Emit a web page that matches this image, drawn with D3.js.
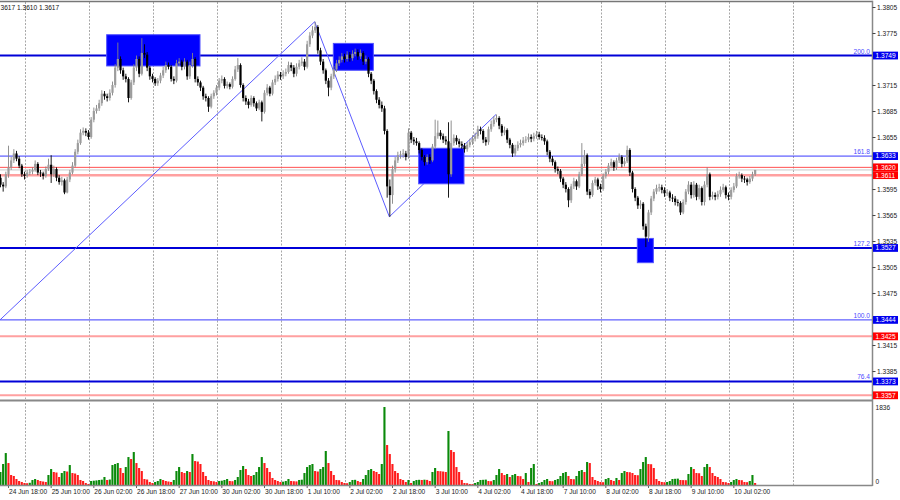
<!DOCTYPE html>
<html><head><meta charset="utf-8">
<script src="https://cdn.jsdelivr.net/npm/d3@7"></script>
<style>html,body{margin:0;padding:0;background:#fff;}svg{display:block;font-family:"Liberation Sans",Arial,sans-serif;}</style>
</head><body><svg id="c" width="900" height="500"></svg>
<script>
// ---------------- DATA ----------------
const symbol = "GBPUSD,H1";
const open = [1.3608,1.3600,1.3598,1.3612,1.3620,1.3628,1.3636,1.3630,1.3622,1.3612,
1.3610,1.3614,1.3615,1.3617,1.3624,1.3614,1.3613,1.3610,1.3618,1.3623,
1.3612,1.3618,1.3608,1.3603,1.3605,1.3591,1.3606,1.3614,1.3622,1.3638,
1.3648,1.3660,1.3662,1.3660,1.3655,1.3675,1.3685,1.3688,1.3694,1.3705,
1.3702,1.3700,1.3706,1.3715,1.3735,1.3745,1.3732,1.3725,1.3722,1.3700,
1.3718,1.3735,1.3745,1.3728,1.3752,1.3750,1.3735,1.3725,1.3722,1.3717,
1.3720,1.3726,1.3732,1.3738,1.3736,1.3722,1.3720,1.3740,1.3742,1.3736,
1.3742,1.3725,1.3738,1.3745,1.3722,1.3718,1.3712,1.3702,1.3700,1.3690,
1.3702,1.3706,1.3712,1.3720,1.3722,1.3714,1.3716,1.3713,1.3722,1.3733,
1.3738,1.3715,1.3700,1.3696,1.3692,1.3700,1.3694,1.3688,1.3695,1.3684,
1.3706,1.3712,1.3705,1.3718,1.3722,1.3727,1.3725,1.3728,1.3730,1.3738,
1.3735,1.3728,1.3736,1.3740,1.3742,1.3736,1.3762,1.3772,1.3778,1.3782,
1.3755,1.3742,1.3732,1.3720,1.3712,1.3725,1.3733,1.3740,1.3744,1.3748,
1.3745,1.3750,1.3746,1.3751,1.3753,1.3748,1.3752,1.3742,1.3745,1.3728,
1.3720,1.3708,1.3698,1.3692,1.3688,1.3662,1.3598,1.3588,1.3618,1.3628,
1.3634,1.3635,1.3636,1.3632,1.3660,1.3652,1.3650,1.3648,1.3640,1.3632,
1.3626,1.3632,1.3628,1.3644,1.3656,1.3660,1.3656,1.3652,1.3650,1.3612,
1.3648,1.3654,1.3650,1.3647,1.3645,1.3641,1.3646,1.3649,1.3653,1.3656,
1.3664,1.3662,1.3652,1.3649,1.3664,1.3670,1.3675,1.3677,1.3668,1.3660,
1.3663,1.3652,1.3646,1.3636,1.3642,1.3646,1.3648,1.3651,1.3652,1.3655,
1.3653,1.3656,1.3658,1.3655,1.3654,1.3650,1.3638,1.3630,1.3626,1.3618,
1.3616,1.3607,1.3600,1.3595,1.3582,1.3598,1.3604,1.3598,1.3612,1.3624,
1.3634,1.3592,1.3588,1.3602,1.3606,1.3598,1.3595,1.3610,1.3615,1.3622,
1.3626,1.3620,1.3628,1.3632,1.3624,1.3627,1.3640,1.3614,1.3595,1.3585,
1.3576,1.3578,1.3552,1.3540,1.3568,1.3584,1.3592,1.3596,1.3597,1.3594,
1.3590,1.3591,1.3585,1.3584,1.3580,1.3579,1.3568,1.3580,1.3592,1.3600,
1.3588,1.3600,1.3586,1.3596,1.3580,1.3600,1.3612,1.3586,1.3588,1.3586,
1.3589,1.3594,1.3597,1.3588,1.3586,1.3594,1.3598,1.3610,1.3611,1.3607,
1.3606,1.3603,1.3607,1.3612];
const high = [1.3612,1.3603,1.3615,1.3645,1.3632,1.3641,1.3639,1.3633,1.3624,1.3615,
1.3617,1.3618,1.3620,1.3628,1.3626,1.3617,1.3615,1.3621,1.3630,1.3634,
1.3622,1.3620,1.3611,1.3609,1.3607,1.3609,1.3617,1.3626,1.3641,1.3652,
1.3664,1.3666,1.3665,1.3663,1.3678,1.3689,1.3692,1.3698,1.3709,1.3708,
1.3705,1.3710,1.3719,1.3739,1.3764,1.3748,1.3735,1.3728,1.3724,1.3721,
1.3739,1.3749,1.3748,1.3769,1.3762,1.3753,1.3737,1.3728,1.3724,1.3723,
1.3729,1.3736,1.3742,1.3741,1.3738,1.3725,1.3744,1.3746,1.3744,1.3746,
1.3744,1.3742,1.3752,1.3747,1.3725,1.3720,1.3714,1.3705,1.3702,1.3705,
1.3709,1.3715,1.3723,1.3726,1.3724,1.3719,1.3718,1.3725,1.3737,1.3746,
1.3740,1.3717,1.3703,1.3699,1.3703,1.3702,1.3696,1.3698,1.3697,1.3709,
1.3716,1.3714,1.3721,1.3726,1.3731,1.3730,1.3732,1.3734,1.3742,1.3741,
1.3738,1.3740,1.3744,1.3747,1.3745,1.3766,1.3776,1.3783,1.3788,1.3784,
1.3758,1.3745,1.3734,1.3723,1.3728,1.3737,1.3744,1.3748,1.3752,1.3751,
1.3754,1.3753,1.3755,1.3757,1.3756,1.3756,1.3754,1.3749,1.3747,1.3730,
1.3722,1.3710,1.3701,1.3696,1.3691,1.3664,1.3606,1.3622,1.3632,1.3638,
1.3639,1.3641,1.3639,1.3665,1.3662,1.3655,1.3654,1.3650,1.3642,1.3634,
1.3635,1.3635,1.3647,1.3675,1.3674,1.3663,1.3659,1.3656,1.3672,1.3674,
1.3658,1.3657,1.3653,1.3650,1.3648,1.3649,1.3653,1.3657,1.3660,1.3668,
1.3667,1.3664,1.3655,1.3667,1.3674,1.3679,1.3681,1.3679,1.3670,1.3667,
1.3665,1.3654,1.3648,1.3646,1.3650,1.3652,1.3655,1.3656,1.3659,1.3658,
1.3660,1.3662,1.3661,1.3658,1.3657,1.3652,1.3640,1.3633,1.3628,1.3621,
1.3618,1.3609,1.3603,1.3597,1.3601,1.3608,1.3606,1.3615,1.3648,1.3640,
1.3636,1.3595,1.3605,1.3609,1.3608,1.3601,1.3613,1.3618,1.3625,1.3630,
1.3628,1.3631,1.3636,1.3634,1.3631,1.3645,1.3642,1.3616,1.3597,1.3587,
1.3582,1.3580,1.3555,1.3571,1.3587,1.3595,1.3600,1.3601,1.3600,1.3597,
1.3595,1.3593,1.3589,1.3587,1.3583,1.3581,1.3583,1.3595,1.3604,1.3603,
1.3604,1.3602,1.3600,1.3598,1.3604,1.3620,1.3614,1.3592,1.3591,1.3593,
1.3598,1.3601,1.3599,1.3591,1.3597,1.3602,1.3613,1.3615,1.3613,1.3610,
1.3608,1.3610,1.3615,1.3617];
const low = [1.3597,1.3592,1.3596,1.3608,1.3617,1.3625,1.3627,1.3619,1.3609,1.3606,
1.3608,1.3611,1.3612,1.3615,1.3611,1.3609,1.3606,1.3608,1.3616,1.3602,
1.3609,1.3604,1.3600,1.3599,1.3589,1.3590,1.3603,1.3612,1.3620,1.3635,
1.3646,1.3657,1.3656,1.3652,1.3653,1.3672,1.3682,1.3685,1.3691,1.3698,
1.3696,1.3697,1.3703,1.3712,1.3731,1.3728,1.3721,1.3718,1.3695,1.3698,
1.3715,1.3731,1.3724,1.3726,1.3746,1.3731,1.3721,1.3718,1.3714,1.3714,
1.3717,1.3723,1.3729,1.3733,1.3719,1.3716,1.3718,1.3737,1.3732,1.3733,
1.3721,1.3722,1.3735,1.3718,1.3714,1.3708,1.3698,1.3696,1.3684,1.3688,
1.3699,1.3703,1.3709,1.3717,1.3711,1.3711,1.3710,1.3711,1.3720,1.3730,
1.3712,1.3696,1.3692,1.3688,1.3690,1.3690,1.3685,1.3686,1.3673,1.3682,
1.3703,1.3702,1.3703,1.3715,1.3719,1.3721,1.3722,1.3725,1.3728,1.3731,
1.3724,1.3725,1.3733,1.3737,1.3732,1.3734,1.3759,1.3769,1.3775,1.3751,
1.3738,1.3728,1.3716,1.3702,1.3709,1.3722,1.3730,1.3737,1.3741,1.3741,
1.3742,1.3742,1.3743,1.3748,1.3744,1.3745,1.3738,1.3739,1.3724,1.3716,
1.3704,1.3694,1.3688,1.3684,1.3658,1.3585,1.3563,1.3578,1.3614,1.3625,
1.3630,1.3631,1.3628,1.3630,1.3648,1.3646,1.3645,1.3636,1.3628,1.3622,
1.3623,1.3624,1.3626,1.3641,1.3653,1.3652,1.3648,1.3646,1.3585,1.3609,
1.3645,1.3646,1.3643,1.3641,1.3637,1.3638,1.3643,1.3646,1.3650,1.3653,
1.3658,1.3648,1.3645,1.3646,1.3661,1.3667,1.3672,1.3664,1.3656,1.3657,
1.3648,1.3642,1.3632,1.3633,1.3639,1.3643,1.3645,1.3648,1.3649,1.3649,
1.3650,1.3653,1.3652,1.3651,1.3646,1.3634,1.3626,1.3622,1.3614,1.3612,
1.3603,1.3596,1.3591,1.3574,1.3579,1.3595,1.3594,1.3596,1.3610,1.3621,
1.3588,1.3584,1.3586,1.3599,1.3594,1.3591,1.3593,1.3607,1.3612,1.3619,
1.3616,1.3617,1.3625,1.3620,1.3621,1.3625,1.3610,1.3591,1.3581,1.3572,
1.3572,1.3548,1.3528,1.3534,1.3565,1.3581,1.3589,1.3592,1.3590,1.3586,
1.3587,1.3581,1.3580,1.3576,1.3575,1.3565,1.3566,1.3577,1.3589,1.3584,
1.3585,1.3582,1.3583,1.3576,1.3576,1.3597,1.3582,1.3583,1.3582,1.3583,
1.3586,1.3591,1.3584,1.3582,1.3583,1.3591,1.3596,1.3607,1.3603,1.3602,
1.3599,1.3601,1.3604,1.3610];
const close = [1.3600,1.3598,1.3612,1.3620,1.3628,1.3636,1.3630,1.3622,1.3612,1.3610,
1.3614,1.3615,1.3617,1.3624,1.3614,1.3613,1.3610,1.3618,1.3623,1.3612,
1.3618,1.3608,1.3603,1.3605,1.3591,1.3606,1.3614,1.3622,1.3638,1.3648,
1.3660,1.3662,1.3660,1.3655,1.3675,1.3685,1.3688,1.3694,1.3705,1.3702,
1.3700,1.3706,1.3715,1.3735,1.3745,1.3732,1.3725,1.3722,1.3700,1.3718,
1.3735,1.3745,1.3728,1.3752,1.3750,1.3735,1.3725,1.3722,1.3717,1.3720,
1.3726,1.3732,1.3738,1.3736,1.3722,1.3720,1.3740,1.3742,1.3736,1.3742,
1.3725,1.3738,1.3745,1.3722,1.3718,1.3712,1.3702,1.3700,1.3690,1.3702,
1.3706,1.3712,1.3720,1.3722,1.3714,1.3716,1.3713,1.3722,1.3733,1.3738,
1.3715,1.3700,1.3696,1.3692,1.3700,1.3694,1.3688,1.3695,1.3684,1.3706,
1.3712,1.3705,1.3718,1.3722,1.3727,1.3725,1.3728,1.3730,1.3738,1.3735,
1.3728,1.3736,1.3740,1.3742,1.3736,1.3762,1.3772,1.3778,1.3782,1.3755,
1.3742,1.3732,1.3720,1.3712,1.3725,1.3733,1.3740,1.3744,1.3748,1.3745,
1.3750,1.3746,1.3751,1.3753,1.3748,1.3752,1.3742,1.3745,1.3728,1.3720,
1.3708,1.3698,1.3692,1.3688,1.3662,1.3598,1.3588,1.3618,1.3628,1.3634,
1.3635,1.3636,1.3632,1.3660,1.3652,1.3650,1.3648,1.3640,1.3632,1.3626,
1.3632,1.3628,1.3644,1.3656,1.3660,1.3656,1.3652,1.3650,1.3612,1.3648,
1.3654,1.3650,1.3647,1.3645,1.3641,1.3646,1.3649,1.3653,1.3656,1.3664,
1.3662,1.3652,1.3649,1.3664,1.3670,1.3675,1.3677,1.3668,1.3660,1.3663,
1.3652,1.3646,1.3636,1.3642,1.3646,1.3648,1.3651,1.3652,1.3655,1.3653,
1.3656,1.3658,1.3655,1.3654,1.3650,1.3638,1.3630,1.3626,1.3618,1.3616,
1.3607,1.3600,1.3595,1.3582,1.3598,1.3604,1.3598,1.3612,1.3624,1.3634,
1.3592,1.3588,1.3602,1.3606,1.3598,1.3595,1.3610,1.3615,1.3622,1.3626,
1.3620,1.3628,1.3632,1.3624,1.3627,1.3640,1.3614,1.3595,1.3585,1.3576,
1.3578,1.3552,1.3540,1.3568,1.3584,1.3592,1.3596,1.3597,1.3594,1.3590,
1.3591,1.3585,1.3584,1.3580,1.3579,1.3568,1.3580,1.3592,1.3600,1.3588,
1.3600,1.3586,1.3596,1.3580,1.3600,1.3612,1.3586,1.3588,1.3586,1.3589,
1.3594,1.3597,1.3588,1.3586,1.3594,1.3598,1.3610,1.3611,1.3607,1.3606,
1.3603,1.3607,1.3612,1.3617];
const volume = [306,494,752,517,235,212,141,94,71,47,
42,52,118,141,118,94,82,71,235,376,
306,294,188,282,329,317,470,282,270,235,
118,94,47,24,94,101,108,118,125,188,
118,129,470,494,517,400,282,423,658,611,
776,517,400,329,141,129,71,47,71,94,
141,118,94,82,71,118,329,423,306,282,
329,306,729,564,552,494,306,212,118,94,
87,71,94,101,118,141,94,89,118,188,
353,447,376,235,212,235,306,423,658,517,
400,306,165,118,94,71,78,94,141,94,
89,85,118,125,282,423,470,494,329,317,
376,423,800,517,329,235,118,113,71,47,
42,71,118,122,94,71,141,235,353,376,
329,306,259,494,1836,941,729,494,329,282,
141,118,71,118,47,94,118,122,118,125,
120,94,306,400,329,325,317,306,1271,823,
776,423,306,118,47,42,24,21,47,71,
118,122,127,94,89,118,235,376,282,235,
259,188,235,259,212,207,141,282,71,400,
494,24,47,71,118,141,94,89,118,141,
212,282,306,212,141,136,212,329,353,306,
541,517,188,118,94,71,66,141,165,118,
94,165,118,282,329,306,301,282,235,230,
376,541,658,494,489,400,141,94,71,66,
71,94,141,146,150,118,115,113,259,423,
376,282,277,212,423,494,423,282,212,188,
141,71,66,47,71,118,141,118,113,71,
66,94,235,47];

const timeLabels = ["24 Jun 18:00","25 Jun 10:00","26 Jun 02:00","26 Jun 18:00","27 Jun 10:00","30 Jun 02:00","30 Jun 18:00","1 Jul 10:00","2 Jul 02:00","2 Jul 18:00","3 Jul 10:00","4 Jul 02:00","4 Jul 18:00","7 Jul 10:00","8 Jul 02:00","8 Jul 18:00","9 Jul 10:00","10 Jul 02:00"];
const timeLabelBars = [3,19,35,51,67,83,99,115,131,147,163,179,195,211,227,243,259,275];
const priceTicks = [1.3805,1.3775,1.3745,1.3715,1.3685,1.3655,1.3625,1.3595,1.3565,1.3535,1.3505,1.3475,1.3445,1.3415,1.3385];
const volumeTicks = [1836,0];

const fiboPrices = [1.3749,1.3633,1.3527,1.3444,1.3373];
const fiboLabels = ["200.0","161.8","127.2","100.0","76.4"];
const redPrices = [1.3620,1.3611,1.3425,1.3357];

const zigzagBars = [0,118,146,186];
const zigzagPrices = [1.3444,1.3788,1.3563,1.3681];

const boxStart = [40,125,157,239];
const boxEnd = [75,140,174,245];
const boxTop = [1.3773,1.3763,1.3642,1.3538];
const boxBottom = [1.3737,1.3732,1.3601,1.3510];

const gridBars = [9.4,33.4,57.4,81.4,105.4,129.4,153.4,177.4,201.4,225.4,249.4,273.4,297.4];

// ---------------- STYLE ----------------
const fiboWidths = [2,1,2,1,2];
const fiboColors = ["#0000d8","#3a3aff","#0000d8","#3a3aff","#0000d8"];
const redWidths = [1,2.5,2,2];
const redColors = ["#ff5050","#ffa0a0","#ffa0a0","#ffa0a0"];
const FS = 6.6;

// ---------------- CHART ----------------
const svg = d3.select("#c");
const PX = 872.5;
const x = d3.scaleLinear().domain([0,327]).range([0,872]);
const y = d3.scaleLinear().domain([1.3805,1.3357]).range([7,395.3]);
const v = d3.scaleLinear().domain([0,1836]).range([485,407]);
const fmt = d3.format(".4f");

svg.append("rect").attr("width",900).attr("height",500).attr("fill","#fff");
const defs = svg.append("defs");
defs.append("clipPath").attr("id","cm").append("rect").attr("x",0).attr("y",2).attr("width",PX).attr("height",397);
defs.append("clipPath").attr("id","cv").append("rect").attr("x",0).attr("y",403).attr("width",PX).attr("height",82);

// grid
const grid = svg.append("g");
gridBars.forEach(b=>{
  const gx = Math.round(x(b))+0.5;
  grid.append("line").attr("x1",gx).attr("x2",gx).attr("y1",2).attr("y2",399).attr("stroke","#a8a8a8").attr("stroke-dasharray","2,1.5");
  grid.append("line").attr("x1",gx).attr("x2",gx).attr("y1",403).attr("y2",485).attr("stroke","#a8a8a8").attr("stroke-dasharray","2,1.5");
});

const main = svg.append("g").attr("clip-path","url(#cm)");
// red lines
redPrices.forEach((p,i)=>{
  main.append("line").attr("x1",0).attr("x2",PX).attr("y1",y(p)).attr("y2",y(p)).attr("stroke",redColors[i]).attr("stroke-width",redWidths[i]);
});
// bid line
const last = close[close.length-1];
main.append("line").attr("x1",0).attr("x2",PX).attr("y1",y(last)).attr("y2",y(last)).attr("stroke","#c8c8c8");
// fibo lines
fiboPrices.forEach((p,i)=>{
  main.append("line").attr("x1",0).attr("x2",PX).attr("y1",y(p)).attr("y2",y(p)).attr("stroke",fiboColors[i]).attr("stroke-width",fiboWidths[i]);
  main.append("text").attr("x",870).attr("y",y(p)-2).attr("text-anchor","end").attr("font-size",FS).attr("fill","#4b4bff").text(fiboLabels[i]);
});
// zigzag
main.append("path").datum(zigzagBars.map((b,i)=>[b,zigzagPrices[i]]))
  .attr("d",d3.line().x(d=>x(d[0])).y(d=>y(d[1])))
  .attr("fill","none").attr("stroke","#5c5cff").attr("stroke-width",1);
// boxes
boxStart.forEach((s,i)=>{
  main.append("rect").attr("x",x(s)).attr("y",y(boxTop[i])).attr("width",x(boxEnd[i])-x(s)).attr("height",y(boxBottom[i])-y(boxTop[i]))
    .attr("fill","#0000ff").attr("stroke","#5050ff").attr("stroke-width",1);
});
// candles
const bars = d3.range(close.length);
const cg = main.append("g");
cg.selectAll("line.w").data(bars).join("line").attr("class","w")
  .attr("x1",i=>x(i)+0.5).attr("x2",i=>x(i)+0.5).attr("y1",i=>y(high[i])).attr("y2",i=>y(low[i]))
  .attr("stroke",i=>close[i]>=open[i]?"#858585":"#000").attr("stroke-width",0.9);
cg.selectAll("rect.b").data(bars).join("rect").attr("class","b")
  .attr("x",i=>x(i)-0.6).attr("width",2.2)
  .attr("y",i=>y(Math.max(open[i],close[i])))
  .attr("height",i=>Math.max(0.8,Math.abs(y(open[i])-y(close[i]))))
  .attr("fill",i=>close[i]>=open[i]?"#9c9c9c":"#000");

// volume
const vg = svg.append("g").attr("clip-path","url(#cv)");
vg.selectAll("rect").data(bars).join("rect")
  .attr("x",i=>x(i)-0.6).attr("width",2.1)
  .attr("y",i=>v(volume[i])).attr("height",i=>v(0)-v(volume[i]))
  .attr("fill",i=>(i===0||volume[i]>volume[i-1])?"#0a8a0a":"#ff1a1a");

// frame
svg.append("line").attr("x1",0).attr("x2",PX).attr("y1",1.5).attr("y2",1.5).attr("stroke","#777").attr("stroke-width",1.5);
svg.append("line").attr("x1",0).attr("x2",PX).attr("y1",400.5).attr("y2",400.5).attr("stroke","#888").attr("stroke-width",2);
svg.append("line").attr("x1",0).attr("x2",PX).attr("y1",485.5).attr("y2",485.5).attr("stroke","#888").attr("stroke-width",1.5);
svg.append("line").attr("x1",PX).attr("x2",PX).attr("y1",0.8).attr("y2",486).attr("stroke","#888").attr("stroke-width",1.5);

// price axis (tick labels hidden where a price tag covers them, as in the terminal)
const tagPrices = fiboPrices.concat(redPrices);
const shownTicks = priceTicks.filter(t=>tagPrices.every(p=>Math.abs(y(p)-y(t))>5.5));
const gy = svg.append("g").attr("transform",`translate(${PX},0)`)
  .call(d3.axisRight(y).tickValues(shownTicks).tickSize(3).tickPadding(1.5).tickFormat(fmt));
gy.select(".domain").remove();
gy.selectAll(".tick line").attr("stroke","#444");
gy.selectAll(".tick text").attr("font-size",FS).attr("fill","#222").attr("font-family","Liberation Sans, Arial, sans-serif");

// price tags
function tag(p,col){
  const g = svg.append("g");
  g.append("rect").attr("x",PX+0.5).attr("y",y(p)-3.9).attr("width",25).attr("height",7.8).attr("fill",col);
  g.append("text").attr("x",PX+3).attr("y",y(p)+2.4).attr("font-size",FS).attr("fill","#fff").text(fmt(p));
}
fiboPrices.forEach(p=>tag(p,"#0000ee"));
redPrices.forEach(p=>tag(p,"#ff0000"));

// volume axis
const gv = svg.append("g").attr("transform",`translate(${PX},0)`)
  .call(d3.axisRight(v).tickValues(volumeTicks).tickSize(0).tickPadding(3).tickFormat(d3.format("d")));
gv.select(".domain").remove();
gv.selectAll(".tick text").attr("font-size",FS).attr("fill","#222").attr("font-family","Liberation Sans, Arial, sans-serif")
  .attr("dy",d=>d===0?"-0.3em":"0.45em");

// time axis
const gx = svg.append("g").attr("transform","translate(0,486)")
  .call(d3.axisBottom(x).tickValues(timeLabelBars).tickSize(2).tickFormat((d,i)=>timeLabels[i]));
gx.select(".domain").remove();
gx.selectAll(".tick line").attr("stroke","#666");
gx.selectAll(".tick text").attr("font-size",FS).attr("fill","#222").attr("text-anchor","start").attr("x",0.5).attr("y",3.2)
  .attr("font-family","Liberation Sans, Arial, sans-serif");

// header text (visible tail of the last bar's OHLC line)
const n = close.length-1;
svg.append("text").attr("x",0.5).attr("y",9.5).attr("font-size",FS).attr("fill","#111")
  .text(`${fmt(high[n]).slice(2)} ${fmt(low[n])} ${fmt(close[n])}`);
</script></body></html>
